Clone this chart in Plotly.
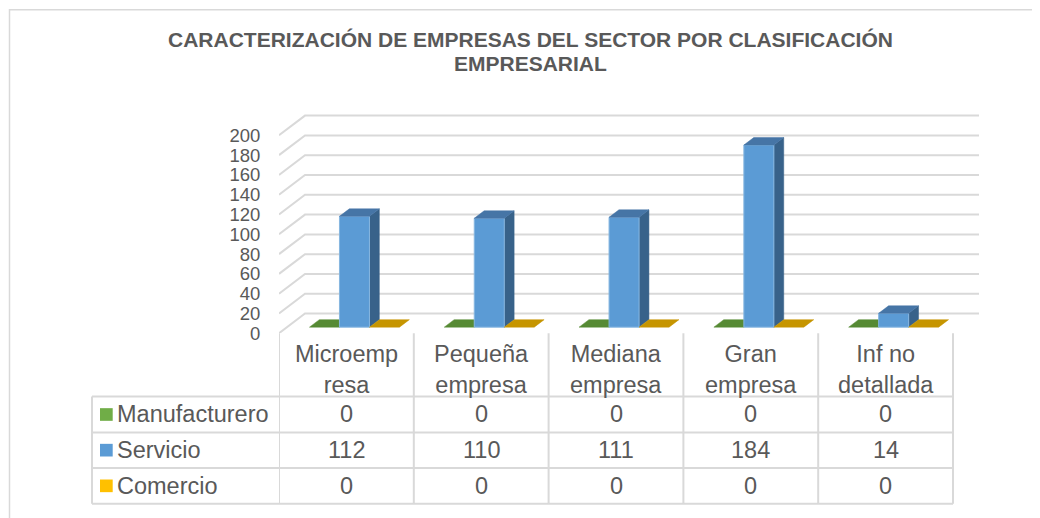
import plotly.graph_objects as go

# ---------------- data ----------------
categories = ["Microempresa", "Pequeña empresa", "Mediana empresa", "Gran empresa", "Inf no detallada"]
header_labels = ["Microemp<br>resa", "Pequeña<br>empresa", "Mediana<br>empresa", "Gran<br>empresa", "Inf no<br>detallada"]
series_names = ["Manufacturero", "Servicio", "Comercio"]
manufacturero = [0, 0, 0, 0, 0]
servicio = [112, 110, 111, 184, 14]
comercio = [0, 0, 0, 0, 0]
y_ticks = [0, 20, 40, 60, 80, 100, 120, 140, 160, 180, 200]
title_lines = ["CARACTERIZACIÓN DE EMPRESAS DEL SECTOR POR CLASIFICACIÓN", "EMPRESARIAL"]

series_values = [manufacturero, servicio, comercio]
# colours: (front, top, side)
series_colors = [
    ("#70AD47", "#568A34", "#466F2C"),
    ("#5B9BD5", "#4675A6", "#38628A"),
    ("#FFC000", "#C69500", "#9E7700"),
]

# ---------------- geometry (target screen pixels) ----------------
OX = 8                 # horizontal page offset
OY, SY = 8.3, 0.976    # vertical page offset / scale observed in the capture
W, H = 1024, 518
PLOT_L, PLOT_R = 279, 979
COL_W = 134.8
FLOOR_Y = 332
PLOT_T = 100
PX_PER_UNIT = 0.985
DEPTH_DX_PX, DEPTH_DY_PX = 26, 19.6
BAR_W_PX = 30
D0, D1 = 0.31, 0.69

x_range = [-0.5, -0.5 + (PLOT_R - PLOT_L) / COL_W]
y_range = [0, (FLOOR_Y - PLOT_T) / PX_PER_UNIT]
DX = DEPTH_DX_PX / COL_W
DY = DEPTH_DY_PX / PX_PER_UNIT
BW = BAR_W_PX / COL_W

TEXT = "#595959"
GRID = "#D9D9D9"
FONT = "Liberation Sans, Arial, sans-serif"
TABLE_FS = 23.5


def py(px):
    return 1 - ((px - OY) / SY) / H


def px_x(px):
    return (px - OX) / W


fig = go.Figure()

# ---- gridlines on back wall + left side wall ----
gx, gy = [], []
n = len(categories)
for v in y_ticks:
    gx += [-0.5, -0.5 + DX, n - 0.5 + DX, None]
    gy += [v, v + DY, v + DY, None]
fig.add_trace(go.Scatter(x=gx, y=gy, mode="lines", line=dict(color=GRID, width=2),
                         hoverinfo="skip", showlegend=False))

# ---- 3D bars ----
for j, (name, vals) in enumerate(zip(series_names, series_values)):
    front, top, side = series_colors[j]
    fx, fy, sx, sy, tx, ty = [], [], [], [], [], []
    for i, v in enumerate(vals):
        xl = i + (j - 1) * BW - BW / 2
        xr = xl + BW
        tx += [xl + D0 * DX, xr + D0 * DX, xr + D1 * DX, xl + D1 * DX, xl + D0 * DX, None]
        ty += [v + D0 * DY, v + D0 * DY, v + D1 * DY, v + D1 * DY, v + D0 * DY, None]
        if v > 0:
            fx += [xl + D0 * DX, xr + D0 * DX, xr + D0 * DX, xl + D0 * DX, xl + D0 * DX, None]
            fy += [D0 * DY, D0 * DY, v + D0 * DY, v + D0 * DY, D0 * DY, None]
            sx += [xr + D0 * DX, xr + D1 * DX, xr + D1 * DX, xr + D0 * DX, xr + D0 * DX, None]
            sy += [D0 * DY, D1 * DY, v + D1 * DY, v + D0 * DY, D0 * DY, None]
    if sx:
        fig.add_trace(go.Scatter(x=sx, y=sy, mode="lines", fill="toself", fillcolor=side,
                                 line=dict(color=side, width=0.5), hoverinfo="skip", showlegend=False))
        fig.add_trace(go.Scatter(x=fx, y=fy, mode="lines", fill="toself", fillcolor=front,
                                 line=dict(color="#86B6E0", width=1), hoverinfo="skip", showlegend=False))
    fig.add_trace(go.Scatter(x=tx, y=ty, mode="lines", fill="toself", fillcolor=top,
                             line=dict(color=top, width=0.5), hoverinfo="skip", showlegend=False))

# ---- data table ----
TABLE_L = 92
HEADER_TOP = 332
ROW_LINES = [395, 430.7, 466, 501.7]
shapes = []
shapes.append(dict(type="rect", xref="paper", yref="paper", x0=px_x(9.5), x1=1.05,
                   y0=-0.05, y1=py(10), line=dict(color=GRID, width=1.5)))
for ry in ROW_LINES:
    shapes.append(dict(type="line", xref="paper", yref="paper", x0=px_x(TABLE_L), x1=px_x(PLOT_L + n * COL_W),
                       y0=py(ry), y1=py(ry), line=dict(color=GRID, width=2)))
shapes.append(dict(type="line", xref="paper", yref="paper", x0=px_x(TABLE_L), x1=px_x(TABLE_L),
                   y0=py(ROW_LINES[0]), y1=py(ROW_LINES[-1]), line=dict(color=GRID, width=2)))
for k in range(n + 1):
    shapes.append(dict(type="line", xref="x", yref="paper", x0=k - 0.5, x1=k - 0.5,
                       y0=py(HEADER_TOP), y1=py(ROW_LINES[-1]), line=dict(color=GRID, width=2)))

annotations = []
for i, lab in enumerate(header_labels):
    annotations.append(dict(x=i, xref="x", y=py(368), yref="paper", text=lab, showarrow=False,
                            xanchor="center", yanchor="middle",
                            font=dict(size=TABLE_FS, color=TEXT, family=FONT)))
for r, (name, vals) in enumerate(zip(series_names, series_values)):
    yc = (ROW_LINES[r] + ROW_LINES[r + 1]) / 2
    shapes.append(dict(type="rect", xref="paper", yref="paper", x0=px_x(100), x1=px_x(112.7),
                       y0=py(yc + 6.3), y1=py(yc - 6.3), fillcolor=series_colors[r][0], line=dict(width=0)))
    annotations.append(dict(x=px_x(115), xref="paper", y=py(yc), yref="paper", text=name, showarrow=False,
                            xanchor="left", yanchor="middle",
                            font=dict(size=TABLE_FS, color=TEXT, family=FONT)))
    for i, v in enumerate(vals):
        annotations.append(dict(x=i, xref="x", y=py(yc), yref="paper", text=str(v), showarrow=False,
                                xanchor="center", yanchor="middle",
                                font=dict(size=TABLE_FS, color=TEXT, family=FONT)))

for line, yc in zip(title_lines, [39.5, 63.2]):
    annotations.append(dict(x=px_x(530), xref="paper", y=py(yc), yref="paper", text="<b>" + line + "</b>",
                            showarrow=False, xanchor="center", yanchor="middle",
                            font=dict(size=21, color=TEXT, family=FONT)))

fig.update_layout(
    width=W, height=H,
    margin=dict(l=0, r=0, t=0, b=0),
    paper_bgcolor="white", plot_bgcolor="rgba(0,0,0,0)",
    showlegend=False,
    shapes=shapes, annotations=annotations,
    xaxis=dict(domain=[px_x(PLOT_L), px_x(PLOT_R)], range=x_range, showgrid=False, zeroline=False,
               showticklabels=False, showline=False, fixedrange=True),
    yaxis=dict(domain=[py(FLOOR_Y), py(PLOT_T)], range=y_range, showgrid=False, zeroline=False,
               tickmode="array", tickvals=y_ticks, ticktext=[str(t) for t in y_ticks],
               ticks="outside", ticklen=14, tickcolor="rgba(0,0,0,0)",
               tickfont=dict(size=18.5, color=TEXT, family=FONT), showline=False, fixedrange=True),
)

fig.write_html("out.html")
